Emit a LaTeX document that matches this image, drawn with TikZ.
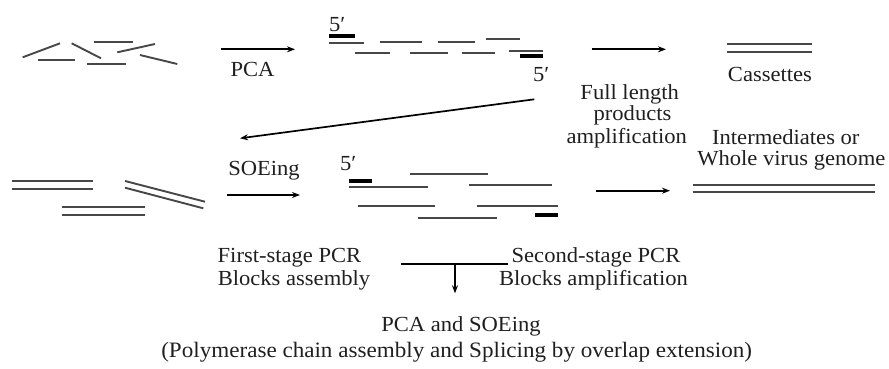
\documentclass[tikz,border=0pt]{standalone}
\usepackage{fontspec}
\setmainfont{Liberation Serif}[FakeStretch=1.05]
\usetikzlibrary{arrows.meta}
\begin{document}
\begin{tikzpicture}[x=1pt,y=-1pt,
  frag/.style={line width=1.9pt, draw=black!72},
  bar/.style={line width=3.8pt, draw=black},
  flow/.style={line width=1.7pt, draw=black, -{Stealth[length=8pt,width=6pt]}},
  lbl/.style={anchor=base, inner sep=0pt, font=\fontsize{21.5}{22}\selectfont, text=black!88},
  prime/.style={anchor=base west, inner sep=0pt, font=\fontsize{21.5}{22}\selectfont, text=black!88},
]
\useasboundingbox (0,0) rectangle (889,368);

% --- top-left: oligo fragments
\draw[frag] (22.7,57.3) -- (60,43.3);
\draw[frag] (38.3,60) -- (75,60);
\draw[frag] (71.7,43.3) -- (101,58.3);
\draw[frag] (94.3,42.3) -- (133.3,42.3);
\draw[frag] (86.7,63.7) -- (126,63.7);
\draw[frag] (117.3,52.3) -- (155,44);
\draw[frag] (140,55) -- (177.3,64);

% PCA arrow
\coordinate (pcaS) at (221,49.3);
\coordinate (pcaE) at (295,49.3);
\draw[flow] (pcaS) -- (pcaE);
\node[lbl] (pca) at (252.5,76.5) {PCA};

% --- top assembly
\node[prime] (p1) at (329,31) {5′};
\draw[bar] (329.3,36) -- (355,36);
\draw[frag] (329.3,43.3) -- (364,43.3);
\draw[frag] (355,53.3) -- (390,53.3);
\draw[frag] (380,42.3) -- (421.7,42.3);
\draw[frag] (438.3,42.3) -- (475,42.3);
\draw[frag] (486,39.3) -- (520,39.3);
\draw[frag] (410,53.3) -- (448.3,53.3);
\draw[frag] (461.7,53.3) -- (495,53.3);
\draw[frag] (509,51) -- (542.7,51);
\draw[bar] (520,56) -- (542.7,56);
\node[prime] (p2) at (533,81) {5′};

% diagonal arrow back to second row
\coordinate (diagS) at (534.3,99.3);
\coordinate (diagE) at (240,138.3);
\draw[flow] (diagS) -- (diagE);

% full length arrow
\coordinate (flS) at (591.7,49.3);
\coordinate (flE) at (666,49.3);
\draw[flow] (flS) -- (flE);
\node[lbl] (fl1) at (629.7,99) {Full length};
\node[lbl] (fl2) at (632.5,120.5) {products};
\node[lbl] (fl3) at (626.7,143.5) {amplification};

% cassettes
\draw[frag] (726.7,44.3) -- (811.7,44.3);
\draw[frag] (726.7,52.3) -- (811.7,52.3);
\node[lbl] (cas) at (770,81) {Cassettes};

% --- second row left: cassettes
\draw[frag] (12.3,181) -- (93.3,181);
\draw[frag] (12.3,189.3) -- (93.3,189.3);
\draw[frag] (61.7,206.7) -- (145,206.7);
\draw[frag] (61.7,215) -- (145,215);
\draw[frag] (125,181) -- (205,201.7);
\draw[frag] (125,187.7) -- (203.3,208.3);

% SOEing arrow
\coordinate (soS) at (226.7,195);
\coordinate (soE) at (300,195);
\draw[flow] (soS) -- (soE);
\node[lbl] (soe) at (264,175) {SOEing};

% --- second row assembly
\node[prime] (p3) at (340,170) {5′};
\draw[bar] (349.3,180.7) -- (371.7,180.7);
\draw[frag] (349.3,187.3) -- (428.3,187.3);
\draw[frag] (410,174.3) -- (488.3,174.3);
\draw[frag] (469,185) -- (552.3,185);
\draw[frag] (358.3,205.7) -- (435,205.7);
\draw[frag] (476.7,205.7) -- (558.3,205.7);
\draw[frag] (418.3,218.3) -- (496.7,218.3);
\draw[bar] (535,215) -- (558.3,215);

% arrow to genome
\coordinate (gS) at (596,190.7);
\coordinate (gE) at (670,190.7);
\draw[flow] (gS) -- (gE);
\draw[frag] (692.7,185) -- (875,185);
\draw[frag] (692.7,192.3) -- (875,192.3);
\node[lbl] (im1) at (785.8,144) {Intermediates or};
\node[lbl] (im2) at (791.3,165) {Whole virus genome};

% --- legend
\node[lbl] (fs1) at (289.5,262.7) {First-stage PCR};
\node[lbl] (fs2) at (294,285) {Blocks assembly};
\node[lbl] (ss1) at (596,262.7) {Second-stage PCR};
\node[lbl] (ss2) at (593.5,285) {Blocks amplification};
\coordinate (hL) at (400.7,264);
\coordinate (hR) at (508.3,264);
\coordinate (hM) at (455,264);
\coordinate (hD) at (455,293.3);
\draw[line width=1.7pt] (hL) -- (hR);
\draw[flow] (hM) -- (hD);
\node[lbl] (title) at (461,331.7) {PCA and SOEing};
\node[lbl, font=\fontsize{22}{22}\selectfont] (sub) at (456.7,357.3) {(Polymerase chain assembly and Splicing by overlap extension)};
\end{tikzpicture}
\end{document}
